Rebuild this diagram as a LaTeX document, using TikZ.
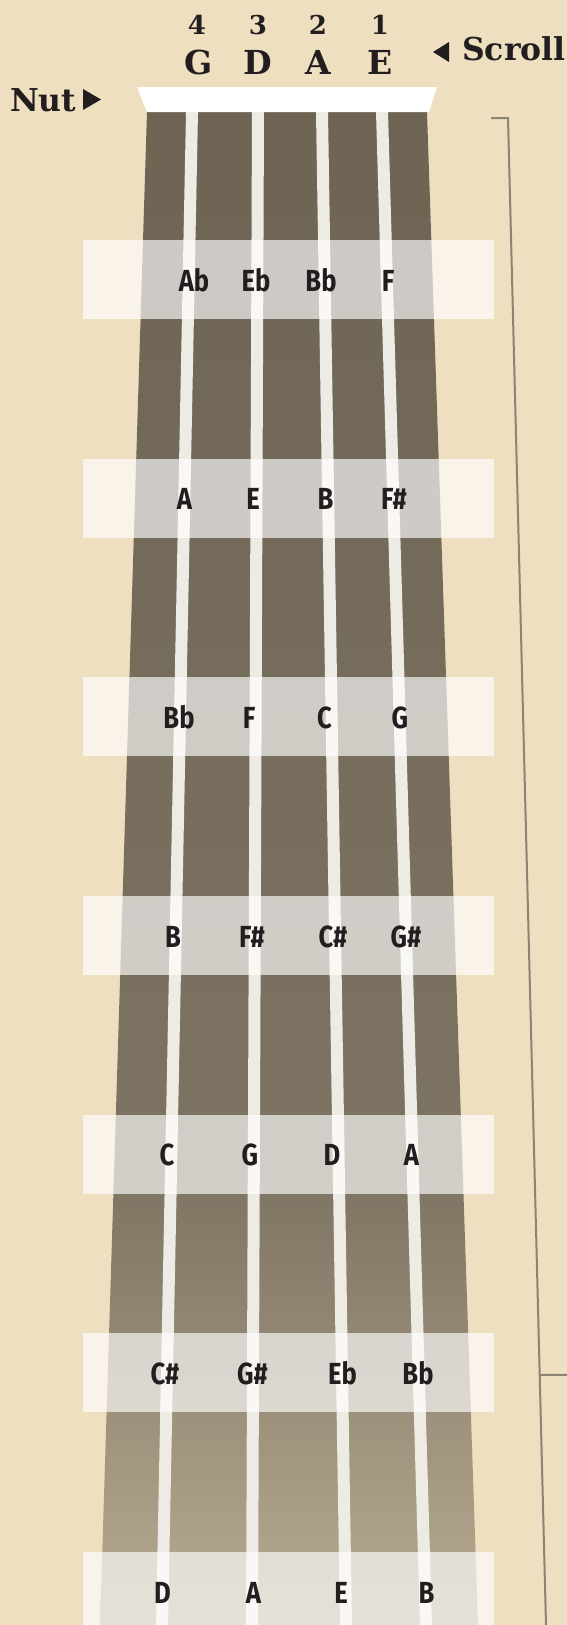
\documentclass[tikz,border=0pt]{standalone}
\usepackage{fontspec}
\setmainfont{DejaVu Serif}
\newfontfamily\notefont{Fira Sans}[FakeStretch=0.84]
\usetikzlibrary{positioning,calc}
\definecolor{paper}{HTML}{EEDFC0}
\definecolor{ink}{HTML}{221E1F}
\definecolor{boardtop}{HTML}{6E6454}
\definecolor{boardmid}{HTML}{7D7362}
\definecolor{boardlow}{HTML}{B8AB91}
\definecolor{strcol}{HTML}{EEEBE5}
\definecolor{rulecol}{HTML}{8B8374}
\pgfdeclareverticalshading{boardfade}{100bp}{color(0bp)=(boardlow); color(25bp)=(boardlow); color(40bp)=(boardmid); color(75bp)=(boardtop); color(100bp)=(boardtop)}

\begin{document}
\begin{tikzpicture}[
  x=1pt,y=-1pt,
  hdr/.style={font=\bfseries\fontsize{33}{33}\selectfont,text=ink,inner sep=0pt,anchor=base},
  num/.style={font=\bfseries\fontsize{26}{26}\selectfont,text=ink,inner sep=0pt,anchor=base},
  lbl/.style={font=\bfseries\fontsize{31.5}{31.5}\selectfont,text=ink,inner sep=0pt,anchor=base west},
  band/.style={fill=white,fill opacity=0.65,minimum width=411pt,minimum height=79pt,inner sep=0pt,outer sep=0pt},
  note/.style={font=\notefont\bfseries\fontsize{30.5}{30.5}\selectfont,text=ink,inner sep=0pt,anchor=base},
  str/.style={strcol,line width=12pt},
  rul/.style={rulecol,line width=2pt}
]
\useasboundingbox (0,0) rectangle (567,1625);
\clip (0,0) rectangle (567,1625);
\fill[paper] (0,0) rectangle (567,1625);
\shade[shading=boardfade] (147,112) -- (427,112) -- (478,1625) -- (100,1625) -- cycle;

\coordinate (gtop) at (192,112); \coordinate (gbot) at (162,1625);
\coordinate (dtop) at (258,112); \coordinate (dbot) at (252,1625);
\coordinate (atop) at (322,112); \coordinate (abot) at (346,1625);
\coordinate (etop) at (382,112); \coordinate (ebot) at (426,1625);
\draw[str] (gtop) -- (gbot);
\draw[str] (dtop) -- (dbot);
\draw[str] (atop) -- (abot);
\draw[str] (etop) -- (ebot);
\fill[white] (137,87) -- (437,87) -- (429,112) -- (147,112) -- cycle;

\node[num] (n4) at (197,34) {4};
\node[num] (n3) at (258,34) {3};
\node[num] (n2) at (318,34) {2};
\node[num] (n1) at (380,34) {1};
\node[hdr] (sg) at (199,74) {G};
\node[hdr] (sd) at (258,74) {D};
\node[hdr] (sa) at (318,74) {A};
\node[hdr] (se) at (380,74) {E};
\node[lbl] (nutlbl) at (10,111) {Nut};
\fill[ink] (83,89) -- (101,99.5) -- (83,110) -- cycle;
\node[lbl] (scrolllbl) at (462,60) {Scroll};
\fill[ink] (449,42) -- (433,52) -- (449,62) -- cycle;

\node[band] (row1) at (288.5,279.5) {};
\node[band] (row2) at (288.5,498.2) {};
\node[band] (row3) at (288.5,716.8) {};
\node[band] (row4) at (288.5,935.5) {};
\node[band] (row5) at (288.5,1154.2) {};
\node[band] (row6) at (288.5,1372.8) {};
\node[band] (row7) at (288.5,1591.5) {};

\node[note] (g1) at (194,291) {Ab};
\node[note] (d1) at (256,291) {Eb};
\node[note] (a1) at (321,291) {Bb};
\node[note] (e1) at (388,291) {F};
\node[note] (g2) at (184.5,509.7) {A};
\node[note] (d2) at (253,509.7) {E};
\node[note] (a2) at (325.5,509.7) {B};
\node[note] (e2) at (394,509.7) {F\#};
\node[note] (g3) at (179,728.3) {Bb};
\node[note] (d3) at (249,728.3) {F};
\node[note] (a3) at (324.5,728.3) {C};
\node[note] (e3) at (400,728.3) {G};
\node[note] (g4) at (173,947) {B};
\node[note] (d4) at (252,947) {F\#};
\node[note] (a4) at (333,947) {C\#};
\node[note] (e4) at (406,947) {G\#};
\node[note] (g5) at (167,1165.7) {C};
\node[note] (d5) at (250,1165.7) {G};
\node[note] (a5) at (332,1165.7) {D};
\node[note] (e5) at (411.5,1165.7) {A};
\node[note] (g6) at (165,1384.3) {C\#};
\node[note] (d6) at (252.5,1384.3) {G\#};
\node[note] (a6) at (342.5,1384.3) {Eb};
\node[note] (e6) at (418,1384.3) {Bb};
\node[note] (g7) at (162.5,1603) {D};
\node[note] (d7) at (253.5,1603) {A};
\node[note] (a7) at (341,1603) {E};
\node[note] (e7) at (426.5,1603) {B};

\coordinate (brtip) at (491,118);
\coordinate (brtop) at (508,118);
\coordinate (brbot) at (546,1625);
\coordinate (brmid) at ($(brtop)!0.834!(brbot)$);
\coordinate (brend) at (567,1374.8);
\draw[rul] (brtip) -- (brtop) -- (brbot);
\draw[rul] (brmid) -- (brend);
\end{tikzpicture}
\end{document}
